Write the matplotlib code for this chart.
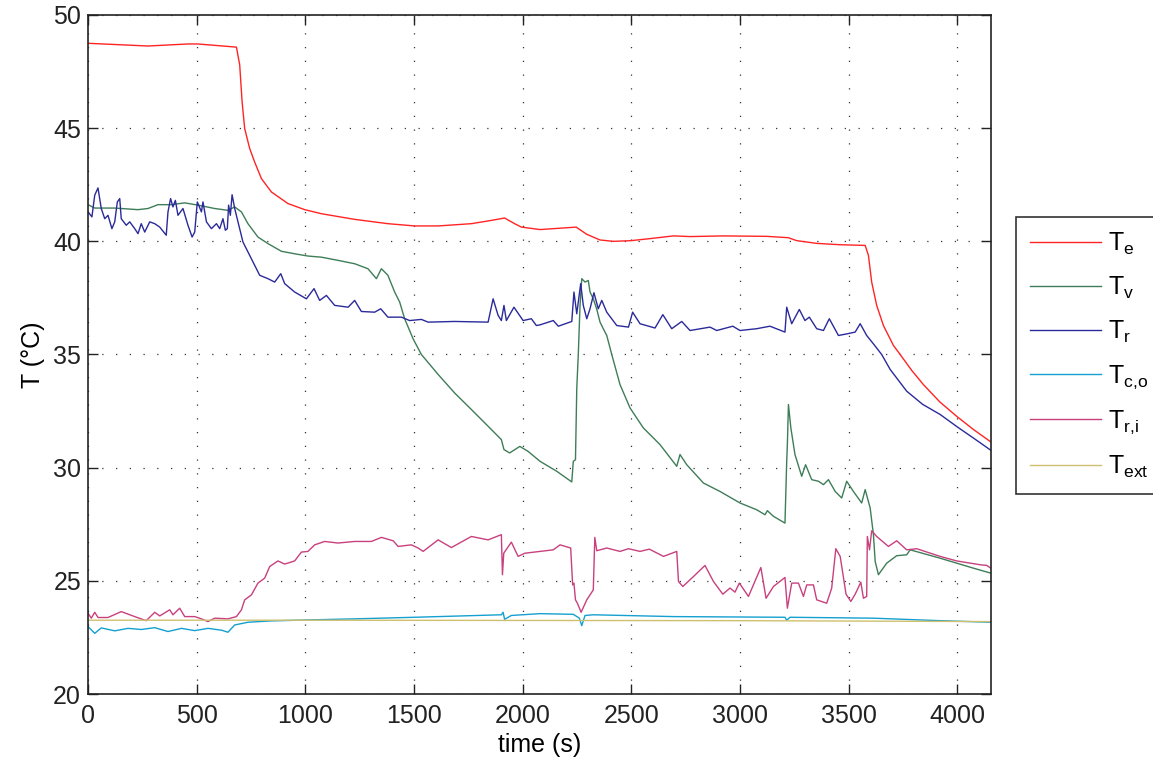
import matplotlib
matplotlib.use("Agg")
import matplotlib.pyplot as plt

plt.rcParams['font.family'] = ['Liberation Sans', 'DejaVu Sans']
plt.rcParams['mathtext.fontset'] = 'custom'
plt.rcParams['mathtext.rm'] = 'Liberation Sans'
plt.rcParams['mathtext.it'] = 'Liberation Sans'

# ---------------- data ----------------
t_e = [0, 276, 460, 506, 683, 698, 709, 721, 744, 767, 798, 844, 920, 997, 1074, 1227,
       1380, 1503, 1611, 1764, 1841, 1917, 1963, 1994, 2080, 2233, 2246, 2295, 2356,
       2417, 2499, 2586, 2694, 2770, 2924, 3123, 3223, 3261, 3353, 3460, 3576, 3591,
       3606, 3629, 3660, 3706, 3737, 3790, 3844, 3920, 3997, 4075, 4154]
T_e = [48.75, 48.63, 48.72, 48.72, 48.58, 47.8, 46.17, 44.98, 44.1, 43.5, 42.77, 42.18,
       41.67, 41.4, 41.22, 40.97, 40.78, 40.68, 40.68, 40.78, 40.9, 41.03, 40.78, 40.63,
       40.52, 40.62, 40.63, 40.31, 40.06, 40.0, 40.03, 40.12, 40.24, 40.21, 40.24, 40.22,
       40.16, 40.03, 39.91, 39.85, 39.82, 39.38, 38.2, 37.17, 36.28, 35.4, 35.0, 34.3,
       33.67, 32.9, 32.27, 31.68, 31.14]

t_v = [0, 31, 123, 230, 276, 322, 384, 445, 506, 583, 644, 675, 706, 736, 782, 828, 890,
       951, 1012, 1074, 1150, 1227, 1288, 1327, 1350, 1380, 1411, 1434, 1457, 1496, 1534,
       1611, 1687, 1764, 1841, 1902, 1914, 1940, 1987, 2025, 2080, 2157, 2226, 2233, 2243,
       2249, 2256, 2264, 2272, 2287, 2302, 2310, 2325, 2341, 2356, 2371, 2387, 2410, 2448,
       2494, 2555, 2632, 2709, 2724, 2755, 2832, 2908, 3000, 3077, 3115, 3126, 3154, 3207,
       3215, 3218, 3223, 3234, 3253, 3284, 3302, 3330, 3361, 3384, 3407, 3438, 3468, 3491,
       3522, 3560, 3576, 3599, 3614, 3622, 3637, 3675, 3721, 3767, 3783, 3921, 4074, 4154]
T_v = [41.62, 41.47, 41.47, 41.4, 41.45, 41.62, 41.62, 41.7, 41.6, 41.45, 41.37, 41.52,
       41.3, 40.78, 40.19, 39.9, 39.56, 39.45, 39.35, 39.3, 39.16, 39.01, 38.79, 38.35,
       38.79, 38.5, 37.76, 37.32, 36.58, 35.69, 35.0, 34.12, 33.3, 32.57, 31.83, 31.24,
       30.8, 30.65, 30.94, 30.72, 30.28, 29.84, 29.37, 30.28, 30.35, 33.5, 35.0, 37.17,
       38.35, 38.2, 38.27, 37.76, 37.46, 37.0, 36.43, 36.14, 35.84, 35.0, 33.67, 32.64,
       31.76, 31.02, 30.06, 30.58, 30.13, 29.32, 28.95, 28.44, 28.14, 27.92, 28.1, 27.85,
       27.55, 30.28, 31.02, 32.79, 31.76, 30.58, 29.62, 30.13, 29.47, 29.4, 29.25, 29.47,
       28.95, 28.66, 29.4, 28.95, 28.44, 29.03, 28.22, 27.04, 25.86, 25.27, 25.78, 26.11,
       26.15, 26.37, 26.0, 25.56, 25.34]

t_r = [0, 18, 31, 46, 61, 77, 92, 110, 123, 135, 146, 153, 176, 192, 215, 230, 245, 261,
       284, 307, 330, 360, 368, 380, 391, 402, 414, 437, 460, 479, 491, 503, 522, 529, 545,
       568, 591, 606, 621, 632, 641, 647, 655, 663, 675, 690, 713, 736, 767, 790, 828, 859,
       887, 905, 951, 1005, 1040, 1066, 1097, 1135, 1197, 1227, 1258, 1319, 1347, 1380,
       1442, 1480, 1534, 1565, 1687, 1841, 1864, 1887, 1902, 1914, 1925, 1960, 2002, 2040,
       2063, 2080, 2141, 2164, 2226, 2236, 2249, 2267, 2279, 2295, 2310, 2328, 2348, 2364,
       2387, 2433, 2487, 2506, 2540, 2609, 2645, 2686, 2732, 2770, 2862, 2893, 2967, 3000,
       3077, 3138, 3207, 3215, 3238, 3273, 3299, 3319, 3353, 3384, 3411, 3453, 3491, 3530,
       3553, 3583, 3614, 3652, 3691, 3767, 3840, 3921, 4000, 4074, 4154]
T_r = [41.3, 41.08, 42.04, 42.36, 41.45, 41.0, 41.15, 40.56, 40.86, 41.74, 41.89, 41.0,
       40.71, 40.86, 40.56, 40.34, 40.78, 40.41, 40.86, 40.78, 40.63, 40.27, 41.3, 41.89,
       41.52, 41.81, 41.15, 41.45, 40.71, 40.19, 40.41, 41.74, 41.3, 41.74, 40.86, 40.56,
       40.78, 40.56, 41.0, 40.49, 40.56, 41.6, 41.15, 42.06, 41.45, 40.86, 39.97, 39.53,
       38.94, 38.5, 38.35, 38.2, 38.57, 38.13, 37.76, 37.46, 37.91, 37.39, 37.61, 37.17,
       37.09, 37.39, 36.9, 36.87, 37.02, 36.65, 36.65, 36.5, 36.55, 36.43, 36.46, 36.43,
       37.46, 36.73, 36.5, 37.17, 36.5, 37.09, 36.5, 36.58, 36.28, 36.31, 36.5, 36.25,
       36.46, 37.76, 36.8, 38.13, 37.17, 36.58, 37.02, 37.73, 37.02, 37.39, 36.87, 36.28,
       36.21, 36.87, 36.36, 36.17, 36.76, 36.14, 36.46, 36.06, 36.21, 36.06, 36.25, 36.06,
       36.14, 36.25, 35.99, 37.09, 36.36, 36.99, 36.5, 36.65, 36.14, 36.06, 36.58, 35.84,
       35.91, 35.99, 36.36, 35.84, 35.47, 35.0, 34.34, 33.38, 32.8, 32.35, 31.8, 31.31, 30.77]

t_co = [0, 31, 61, 123, 184, 245, 307, 368, 430, 491, 552, 614, 644, 675, 736, 844, 1002,
        1227, 1503, 1902, 1910, 1917, 1948, 2080, 2233, 2261, 2272, 2287, 2325, 2694, 3207,
        3215, 3230, 3614, 3921, 4154]
T_co = [22.98, 22.68, 22.92, 22.79, 22.9, 22.85, 22.93, 22.76, 22.9, 22.8, 22.9, 22.82,
        22.73, 23.05, 23.17, 23.23, 23.27, 23.32, 23.39, 23.5, 23.61, 23.3, 23.47, 23.55,
        23.52, 23.35, 23.02, 23.47, 23.5, 23.42, 23.39, 23.26, 23.39, 23.35, 23.24, 23.17]

t_ri = [0, 15, 31, 46, 92, 153, 215, 268, 307, 330, 376, 391, 422, 445, 491, 522, 552, 583,
        644, 683, 706, 721, 752, 782, 813, 836, 874, 905, 951, 982, 1012, 1043, 1089, 1150,
        1227, 1304, 1350, 1404, 1427, 1488, 1519, 1542, 1611, 1672, 1764, 1841, 1902, 1907,
        1913, 1948, 1979, 2010, 2080, 2141, 2172, 2221, 2230, 2236, 2243, 2252, 2269, 2295,
        2325, 2332, 2341, 2387, 2448, 2487, 2540, 2583, 2648, 2709, 2717, 2737, 2786, 2839,
        2878, 2921, 2954, 2977, 2997, 3039, 3096, 3120, 3154, 3207, 3218, 3238, 3269, 3292,
        3307, 3338, 3353, 3399, 3422, 3441, 3461, 3488, 3510, 3530, 3556, 3568, 3583, 3586,
        3596, 3606, 3629, 3683, 3721, 3767, 3813, 3921, 3997, 4105, 4136, 4154]
T_ri = [23.57, 23.35, 23.61, 23.38, 23.38, 23.64, 23.42, 23.24, 23.61, 23.45, 23.72, 23.5,
        23.79, 23.42, 23.42, 23.32, 23.2, 23.35, 23.32, 23.42, 23.72, 24.16, 24.38, 24.9,
        25.12, 25.63, 25.88, 25.74, 25.88, 26.27, 26.3, 26.59, 26.74, 26.67, 26.74, 26.74,
        26.92, 26.77, 26.52, 26.59, 26.45, 26.3, 26.81, 26.47, 26.96, 26.81, 27.04, 25.27,
        26.22, 26.71, 26.08, 26.22, 26.3, 26.37, 26.59, 26.45, 24.82, 24.9, 24.16, 24.01,
        23.61, 24.16, 24.6, 26.92, 26.33, 26.45, 26.3, 26.42, 26.3, 26.4, 26.08, 26.3,
        24.97, 24.75, 25.19, 25.68, 24.97, 24.41, 24.68, 24.5, 24.9, 24.31, 25.59, 24.23,
        24.75, 25.15, 23.79, 24.9, 24.9, 24.31, 24.82, 24.82, 24.16, 24.01, 24.68, 26.42,
        26.08, 24.41, 24.09, 24.41, 24.94, 24.23, 24.31, 26.96, 26.37, 27.21, 26.96, 26.52,
        26.77, 26.37, 26.42, 26.08, 25.88, 25.71, 25.68, 25.56]

t_ext = [0, 1000, 2000, 3000, 4154]
T_ext = [23.26, 23.26, 23.25, 23.24, 23.2]

series = [
    (t_e, T_e, '#ff2424', r'$\mathrm{T_{e}}$'),
    (t_v, T_v, '#3f7d58', r'$\mathrm{T_{v}}$'),
    (t_r, T_r, '#2a2a9a', r'$\mathrm{T_{r}}$'),
    (t_co, T_co, '#14a0d0', r'$\mathrm{T_{c{,}o}}$'),
    (t_ri, T_ri, '#c8407e', r'$\mathrm{T_{r{,}i}}$'),
    (t_ext, T_ext, '#cfc070', r'$\mathrm{T_{ext}}$'),
]

# ---------------- figure ----------------
W, H = 1153, 762
fig = plt.figure(figsize=(W / 100, H / 100), dpi=100)
ax = fig.add_axes([88 / W, 1 - 694 / H, (991 - 88) / W, (694 - 15) / H])

for t, y, c, lab in series:
    ax.plot(t, y, color=c, lw=1.0, label=lab)

ax.set_xlim(0, 4155)
ax.set_ylim(20, 50)
ax.set_xticks(range(0, 4001, 500))
ax.set_yticks(range(20, 51, 5))
ax.grid(True, color='#333333', linestyle=(0, (1, 10)), linewidth=0.9)
ax.tick_params(direction='in', length=7, width=1, top=True, right=True,
               labelsize=18, colors='#222222')
ax.tick_params(axis='x', pad=7)
ax.tick_params(axis='y', pad=5)
for s in ax.spines.values():
    s.set_linewidth(1.2)
    s.set_color('#222222')

ax.set_xlabel('time (s)', fontsize=18, labelpad=4)
ax.set_ylabel('T (°C)', fontsize=18, labelpad=6)

leg = fig.legend(loc='upper left', bbox_to_anchor=(1016 / W, 1 - 217 / H),
                 bbox_transform=fig.transFigure, fontsize=18, frameon=True,
                 fancybox=False, edgecolor='black', handlelength=2.85,
                 labelspacing=0.72, borderaxespad=0, handletextpad=0.3,
                 borderpad=0.55)
leg.get_frame().set_linewidth(1.2)

fig.savefig('out.png', dpi=100)
